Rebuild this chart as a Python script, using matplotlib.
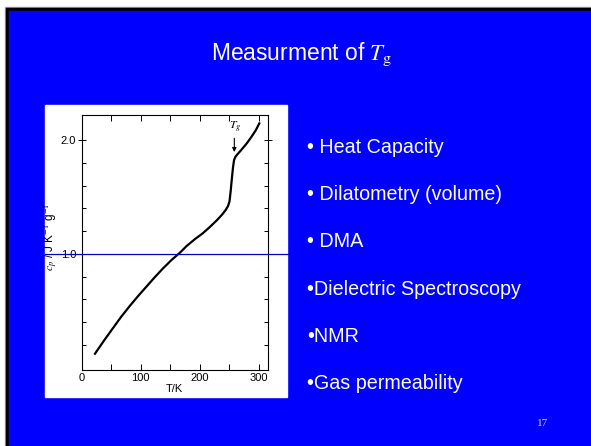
import matplotlib.pyplot as plt
from matplotlib.patches import Rectangle
from matplotlib.lines import Line2D

plt.rcParams['font.family'] = ['Liberation Sans', 'DejaVu Sans']
plt.rcParams['mathtext.fontset'] = 'stix'

# heat capacity curve
temps = [22.5, 38, 53.6, 67, 81.9, 96, 110.2, 124, 138.3, 152, 166.6, 178, 192, 205, 217, 230,
         238, 244, 248, 250.5, 252.5, 254.5, 256.5, 258.3, 260.5, 264, 270, 279.7, 288, 295, 301]
cp = [0.123, 0.24, 0.352, 0.448, 0.545, 0.632, 0.715, 0.796, 0.875, 0.945, 1.011, 1.07, 1.13,
      1.18, 1.235, 1.30, 1.345, 1.385, 1.42, 1.46, 1.55, 1.66, 1.76, 1.825, 1.852, 1.875, 1.91,
      1.97, 2.03, 2.085, 2.146]
xticks = [0, 100, 200, 300]
xlabels = ['0', '100', '200', '300']
yticks = [1.0, 2.0]
ylabels = ['1.0', '2.0']
tg = 258.7

bullets = ['\u2022 Heat Capacity', '\u2022 Dilatometry (volume)', '\u2022 DMA',
           '\u2022Dielectric Spectroscopy', '\u2022NMR', '\u2022Gas permeability']

W, H = 591, 446
fig = plt.figure(figsize=(W / 100, H / 100), dpi=100)
fig.patch.set_facecolor('white')

def fx(px):
    return px / W

def fy(py):
    return 1 - py / H

# slide background with dark edge
fig.add_artist(Rectangle((fx(5), 0), 1, fy(7), transform=fig.transFigure, color='#a0a0a0', zorder=0))
fig.add_artist(Rectangle((fx(6), 0), 1, fy(8), transform=fig.transFigure, color='black', zorder=0))
fig.add_artist(Rectangle((fx(9), 0), 1, fy(10.5), transform=fig.transFigure, color='#0000ff', zorder=0))

# white box of the pasted figure
fig.add_artist(Rectangle((fx(45), fy(397)), fx(242), 292 / H, transform=fig.transFigure,
                         color='white', zorder=1))

fig.text(fx(302), fy(54), 'Measurment of $T_{\\mathrm{g}}$', color='white', fontsize=16.5,
         ha='center', va='center')

for i, b in enumerate(bullets):
    fig.text(fx(307), fy(147.5 + i * 47.2), b, color='white', fontsize=14.2, ha='left', va='center')

fig.text(fx(537), fy(423), '17', color='#ccccff', fontsize=8, family='Liberation Serif',
         ha='left', va='center')

ax = fig.add_axes([fx(81.7), fy(370), (268 - 81.7) / W, (370 - 115) / H])
ax.set_zorder(2)
ax.patch.set_alpha(0)
ax.plot(temps, cp, color='black', lw=1.6, solid_joinstyle='round')
ax.annotate('', xy=(tg, 1.87), xytext=(tg, 2.04),
            arrowprops=dict(arrowstyle='-|>', color='black', lw=0.8, mutation_scale=6))
ax.text(tg + 1, 2.04, '$T_g$', fontsize=8.5, ha='center', va='bottom')

ax.set_xlim(0, 315.8)
ax.set_ylim(-0.02, 2.22)
ax.set_xticks(xticks)
ax.set_xticklabels(xlabels)
ax.set_xticks([50, 150, 250], minor=True)
ax.set_yticks(yticks)
ax.set_yticklabels(ylabels)
ax.tick_params(axis='x', which='both', direction='in', top=True, length=4, width=0.7,
               labelsize=8, pad=2)
ax.set_yticks([0.2, 0.4, 0.6, 0.8, 1.2, 1.4, 1.6, 1.8], minor=True)
ax.tick_params(axis='y', which='major', direction='inout', right=True, length=6, width=0.7,
               labelsize=8, pad=1)
ax.tick_params(axis='y', which='minor', direction='in', right=True, length=3, width=0.7)
for s in ax.spines.values():
    s.set_linewidth(0.8)
ax.set_xlabel('T/K', fontsize=8, labelpad=1)
ax.set_ylabel('$c_p$ / J K$^{-1}$ g$^{-1}$', fontsize=8.5)
ax.yaxis.set_label_coords(-0.115, 0.52)

# stray line across the slide
fig.add_artist(Line2D([fx(45), fx(290)], [fy(253.5), fy(253.5)], transform=fig.transFigure,
                      color='#0000c0', lw=0.9, zorder=5))

fig.savefig('out.png', dpi=100)
